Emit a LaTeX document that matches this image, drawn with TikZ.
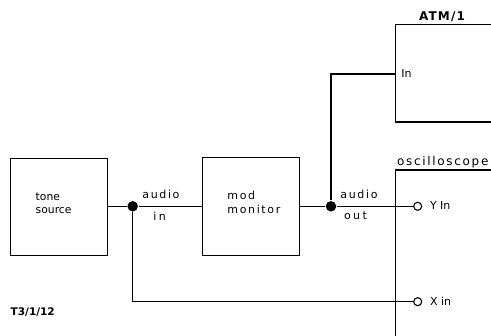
\documentclass[tikz,border=0pt]{standalone}
\usepackage{fontspec}
\setmainfont{DejaVu Sans}
\newfontfamily\labsp[LetterSpace=15]{DejaVu Sans}
\newfontfamily\labwide[LetterSpace=22]{DejaVu Sans}
\newfontfamily\labosc[LetterSpace=14]{DejaVu Sans}
\newfontfamily\labbold[LetterSpace=10]{DejaVu Sans Bold}
\begin{document}
\begin{tikzpicture}[x=1pt,y=-1pt,
  line width=1.4pt,
  box/.style={draw, inner sep=0pt},
  lbl/.style={inner sep=0pt, anchor=base west, font=\fontsize{11}{13}\selectfont},
  dotj/.style={circle, fill, inner sep=0pt, minimum size=10.5pt},
  jack/.style={circle, draw, line width=1.1pt, fill=white, inner sep=0pt, minimum size=8pt}]
\useasboundingbox (0,0) rectangle (491,336);
% blocks
\node[box, minimum width=97pt, minimum height=97pt] (tone) at (59.2,207.2) {};
\node[box, minimum width=97.4pt, minimum height=98pt] (mod) at (251,206.6) {};
% open boxes at the right edge
\coordinate (atmtl) at (395.7,24.3);
\coordinate (atmbl) at (395.7,122);
\coordinate (osctl) at (395.7,170);
\draw (491,24.3) -- (atmtl) -- (atmbl) -- (491,122);
\draw (491,170) -- (osctl) -- (395.7,336);
\coordinate (atmin) at (395.7,74);
% junctions and jacks
\node[dotj] (j1) at (132.7,206.3) {};
\node[dotj] (j2) at (331,206.3) {};
\coordinate (c1) at (331,74);
\coordinate (c2) at (132.7,301.7);
\node[jack] (yin) at (417.7,206.3) {};
\node[jack] (xin) at (417.7,301.7) {};
% connectors
\draw (tone.east |- j1) -- (j1) -- (mod.west |- j1);
\draw (mod.east |- j2) -- (j2) -- (yin.west);
\draw (j2) -- (c1) -- (atmin);
\draw (j1) -- (c2) -- (xin.west);
% texts
\node[lbl, font=\fontsize{10.8}{13}\selectfont] (t1) at (35,200.7) {tone};
\node[lbl, font=\fontsize{10.8}{13}\selectfont] (t2) at (35,214) {source};
\node[lbl, font=\fontsize{11}{13}\labsp] (m1) at (226.7,200) {mod};
\node[lbl, font=\fontsize{11}{13}\labsp] (m2) at (226.7,213.3) {monitor};
\node[lbl, font=\fontsize{11}{13}\labsp] (a1) at (141.7,199) {audio};
\node[lbl, font=\fontsize{11}{13}\labwide] (a2) at (152.7,220.7) {in};
\node[lbl, font=\fontsize{11}{13}\labsp] (a3) at (339.7,199) {audio};
\node[lbl, font=\fontsize{11}{13}\labwide] (a4) at (343.3,220) {out};
\node[lbl, font=\fontsize{12}{14}\labbold] (atm) at (418.3,20.7) {ATM/1};
\node[lbl, font=\fontsize{12}{14}\labosc] (osc) at (396.5,165.5) {oscilloscope};
\node[lbl] (in) at (400.7,77.3) {In};
\node[lbl] (yl) at (429.3,210) {Y In};
\node[lbl] (xl) at (429.3,305.7) {X in};
\node[lbl, font=\fontsize{10.5}{12}\bfseries] (ref) at (10,316) {T3/1/12};
\end{tikzpicture}
\end{document}
